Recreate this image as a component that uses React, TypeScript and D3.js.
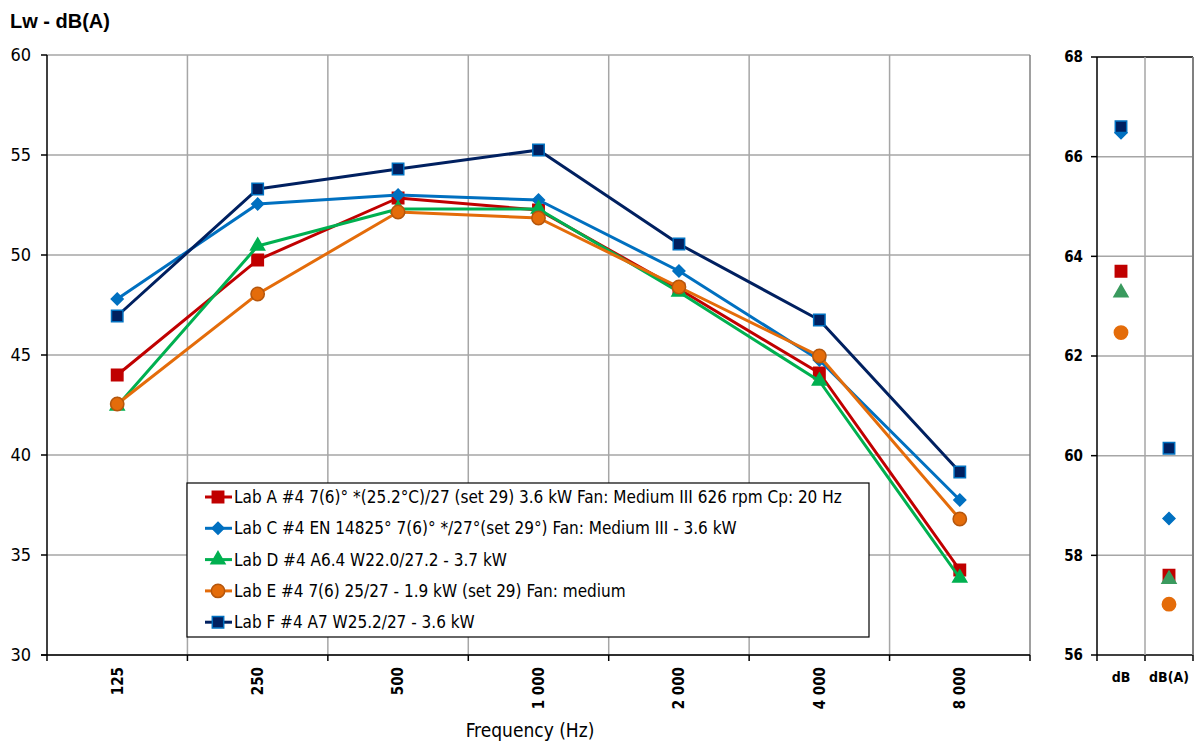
import React from "react";
import * as d3 from "d3";

const categories = ["125", "250", "500", "1\u00A0000", "2\u00A0000", "4\u00A0000", "8\u00A0000"];
const totalCategories = ["dB", "dB(A)"];
const yTicks = [30, 35, 40, 45, 50, 55, 60];
const yTicksTotal = [56, 58, 60, 62, 64, 66, 68];

const seriesNames = [
  "Lab A #4 7(6)° *(25.2°C)/27 (set 29) 3.6 kW Fan: Medium III 626 rpm Cp: 20 Hz",
  "Lab C #4 EN 14825°  7(6)° */27°(set 29°) Fan: Medium III - 3.6 kW",
  "Lab D #4 A6.4 W22.0/27.2 - 3.7 kW",
  "Lab E #4 7(6) 25/27 - 1.9 kW (set 29) Fan: medium",
  "Lab F #4 A7 W25.2/27 - 3.6 kW",
];

const labA = [44.0, 49.75, 52.85, 52.25, 48.3, 44.1, 34.25];
const labC = [47.8, 52.55, 53.0, 52.75, 49.2, 44.75, 37.75];
const labD = [42.45, 50.45, 52.3, 52.3, 48.15, 43.7, 33.85];
const labE = [42.55, 48.05, 52.15, 51.85, 48.4, 44.95, 36.8];
const labF = [46.95, 53.3, 54.3, 55.25, 50.55, 46.75, 39.15];

const labATotal = [63.7, 57.6];
const labCTotal = [66.48, 58.74];
const labDTotal = [63.27, 57.52];
const labETotal = [62.47, 57.02];
const labFTotal = [66.6, 60.15];

const seriesValues = [labA, labC, labD, labE, labF];
const totalValues = [labATotal, labCTotal, labDTotal, labETotal, labFTotal];

const styles = [
  { line: "#c00000", fill: "#c00000", stroke: "#c00000", shape: d3.symbolSquare, size: 130 },
  { line: "#0070c0", fill: "#0070c0", stroke: "#0070c0", shape: d3.symbolDiamond2, size: 90 },
  { line: "#00b050", fill: "#00b050", stroke: "#00b050", shape: d3.symbolTriangle, size: 85 },
  { line: "#e46c0a", fill: "#e46c0a", stroke: "#b5560c", shape: d3.symbolCircle, size: 140 },
  { line: "#002060", fill: "#002060", stroke: "#0070c0", shape: d3.symbolSquare, size: 130 },
];
const totalFills = ["#c00000", "#0070c0", "#3a9a5e", "#e46c0a", "#002060"];

const FONT = "'DejaVu Sans Condensed', 'DejaVu Sans', sans-serif";
const GRID = "#a6a6a6";

export default function App() {
  const x = d3.scaleBand().domain(categories).range([47, 1030]);
  const y = d3.scaleLinear().domain([30, 60]).range([655, 55]);
  const xR = d3.scaleBand().domain(totalCategories).range([1097, 1193]);
  const yR = d3.scaleLinear().domain([56, 68]).range([655, 57]);
  const cx = (c: string) => (x(c) as number) + x.bandwidth() / 2;
  const cxR = (c: string) => (xR(c) as number) + xR.bandwidth() / 2;

  const line = d3
    .line<number>()
    .x((_, i) => cx(categories[i]))
    .y((d) => y(d));

  const boundaries = categories.map((c) => x(c) as number).concat([1030]);

  return (
    <svg
      width={1199}
      height={742}
      style={{ position: "absolute", left: 0, top: 0, fontFamily: FONT, fontStretch: "condensed" }}
    >
      <rect width={1199} height={742} fill="#fff" />
      <text x={10} y={28} fontFamily="'Liberation Sans', Arial, sans-serif" fontWeight="bold" fontSize={20}>
        Lw - dB(A)
      </text>

      {/* main panel grid */}
      {yTicks.map((t) => (
        <line key={"hy" + t} x1={47} x2={1030} y1={y(t)} y2={y(t)} stroke={GRID} strokeWidth={1.5} />
      ))}
      {boundaries.slice(1).map((b, i) => (
        <line key={"vx" + i} x1={b} x2={b} y1={55} y2={655} stroke={i === 6 ? "#808080" : GRID} strokeWidth={1.5} />
      ))}
      <line x1={47} x2={47} y1={55} y2={655} stroke="#000" strokeWidth={1.5} />
      <line x1={41} x2={1030} y1={655} y2={655} stroke="#000" strokeWidth={1.5} />
      {yTicks.map((t) => (
        <g key={"yt" + t}>
          <line x1={41} x2={47} y1={y(t)} y2={y(t)} stroke="#000" strokeWidth={1.5} />
          <text x={31} y={y(t)} dy="0.36em" textAnchor="end" fontSize={18}>
            {t}
          </text>
        </g>
      ))}
      {boundaries.map((b, i) => (
        <line key={"xt" + i} x1={b} x2={b} y1={655} y2={661} stroke="#000" strokeWidth={1.5} />
      ))}
      {categories.map((c) => (
        <text
          key={"xl" + c}
          transform={`translate(${cx(c)},667) rotate(-90)`}
          textAnchor="end"
          dy="0.36em"
          fontSize={15}
          fontWeight="bold"
        >
          {c}
        </text>
      ))}
      <text x={530} y={737} textAnchor="middle" fontSize={19}>
        Frequency (Hz)
      </text>

      {/* series */}
      {seriesValues.map((vals, si) => (
        <g key={"s" + si}>
          <path d={line(vals) as string} fill="none" stroke={styles[si].line} strokeWidth={3} strokeLinejoin="round" />
          {vals.map((v, i) => (
            <path
              key={i}
              transform={`translate(${cx(categories[i])},${y(v)})`}
              d={d3.symbol(styles[si].shape, styles[si].size)() as string}
              fill={styles[si].fill}
              stroke={styles[si].stroke}
              strokeWidth={1.5}
            />
          ))}
        </g>
      ))}

      {/* legend */}
      <rect x={187} y={483} width={682} height={154} fill="#fff" stroke="#000" strokeWidth={1.2} />
      {seriesNames.map((name, si) => {
        const ly = 497 + si * 31.3;
        return (
          <g key={"lg" + si}>
            <line x1={205} x2={232} y1={ly} y2={ly} stroke={styles[si].line} strokeWidth={3} />
            <path
              transform={`translate(218,${ly})`}
              d={d3.symbol(styles[si].shape, styles[si].size)() as string}
              fill={styles[si].fill}
              stroke={styles[si].stroke}
              strokeWidth={1.5}
            />
            <text x={234} y={ly} dy="0.36em" fontSize={17}>
              {name}
            </text>
          </g>
        );
      })}

      {/* totals panel */}
      {yTicksTotal.map((t) => (
        <g key={"ry" + t}>
          <line x1={1097} x2={1193} y1={yR(t)} y2={yR(t)} stroke={t === 56 || t === 68 ? "#000" : GRID} strokeWidth={1.5} />
          <line x1={1091} x2={1097} y1={yR(t)} y2={yR(t)} stroke="#000" strokeWidth={1.5} />
          <text x={1083} y={yR(t)} dy="0.36em" textAnchor="end" fontSize={15} fontWeight="bold">
            {t}
          </text>
        </g>
      ))}
      <line x1={1145} x2={1145} y1={57} y2={655} stroke={GRID} strokeWidth={1.5} />
      <line x1={1193} x2={1193} y1={57} y2={655} stroke="#808080" strokeWidth={2} />
      <line x1={1097} x2={1097} y1={57} y2={655} stroke="#000" strokeWidth={1.5} />
      {[1097, 1145, 1193].map((b) => (
        <line key={"rt" + b} x1={b} x2={b} y1={655} y2={661} stroke="#000" strokeWidth={1.5} />
      ))}
      {totalCategories.map((c) => (
        <text key={"rl" + c} x={cxR(c)} y={677} dy="0.36em" textAnchor="middle" fontSize={14} fontWeight="bold">
          {c}
        </text>
      ))}
      {totalValues.map((vals, si) =>
        vals.map((v, i) => (
          <path
            key={"tv" + si + "-" + i}
            transform={`translate(${cxR(totalCategories[i])},${yR(v)})`}
            d={d3.symbol(styles[si].shape, styles[si].size)() as string}
            fill={totalFills[si]}
            stroke={si === 4 ? "#0070c0" : totalFills[si]}
            strokeWidth={1.5}
          />
        ))
      )}
    </svg>
  );
}
